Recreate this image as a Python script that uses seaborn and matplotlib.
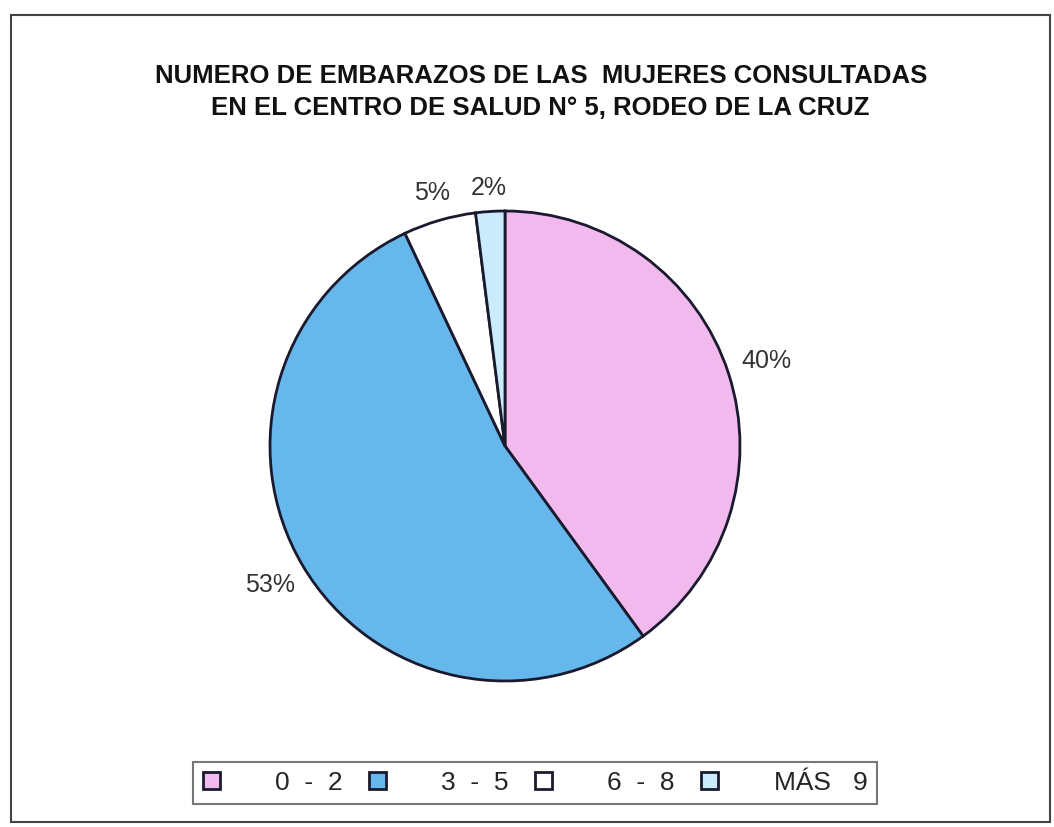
import numpy as np
import matplotlib.pyplot as plt
import seaborn as sns
from matplotlib.patches import Rectangle

# datos
categorias = ['0  -  2', '3  -  5', '6  -  8', 'MÁS   9']
porcentajes = [40, 53, 5, 2]
etiquetas = ['40%', '53%', '5%', '2%']
colores = ['#F2B9EF', '#66B7EC', '#FFFFFF', '#C9EBFB']

titulo = ('NUMERO DE EMBARAZOS DE LAS  MUJERES CONSULTADAS\n'
          'EN EL CENTRO DE SALUD N° 5, RODEO DE LA CRUZ')

sns.set_theme(style='white')
plt.rcParams['font.family'] = ['Liberation Sans', 'DejaVu Sans']

fig = plt.figure(figsize=(10.54, 8.27), dpi=100)

# marco exterior
fig.patches.append(Rectangle((11 / 1054, 1 - 822 / 827), 1039 / 1054, 807 / 827,
                             transform=fig.transFigure, fill=False,
                             edgecolor='#444444', linewidth=1.5))

ax = fig.add_axes([270 / 1054, (827 - 446 - 235) / 827, 470 / 1054, 470 / 827])
wedges, _ = ax.pie(porcentajes, colors=colores,
                   startangle=90, counterclock=False,
                   wedgeprops=dict(edgecolor='#1a1a2e', linewidth=2))

# etiquetas de porcentaje
distancias = [1.17, 1.16, 1.12, 1.1]
for w, txt, d in zip(wedges, etiquetas, distancias):
    ang = np.deg2rad((w.theta1 + w.theta2) / 2)
    ax.text(d * np.cos(ang), d * np.sin(ang), txt, ha='center', va='center',
            fontsize=18, color='#333333')
ax.set_xlim(-1, 1)
ax.set_ylim(-1, 1)
ax.set_aspect('equal')

fig.text(0.513, 1 - 92 / 827, titulo, ha='center', va='center',
         fontsize=18.5, fontweight='bold', linespacing=1.45, color='#111111')

leg = fig.legend(wedges, categorias, loc='center', bbox_to_anchor=(535 / 1054, 1 - 783 / 827),
                 ncol=4, fontsize=19, frameon=True, fancybox=False,
                 edgecolor='#555555', handlelength=0.64, handleheight=0.6,
                 handletextpad=2.1, columnspacing=1.0, borderpad=0.35,
                 borderaxespad=0)
leg.get_frame().set_linewidth(1.5)

fig.savefig('out.png', dpi=100, facecolor='white')
